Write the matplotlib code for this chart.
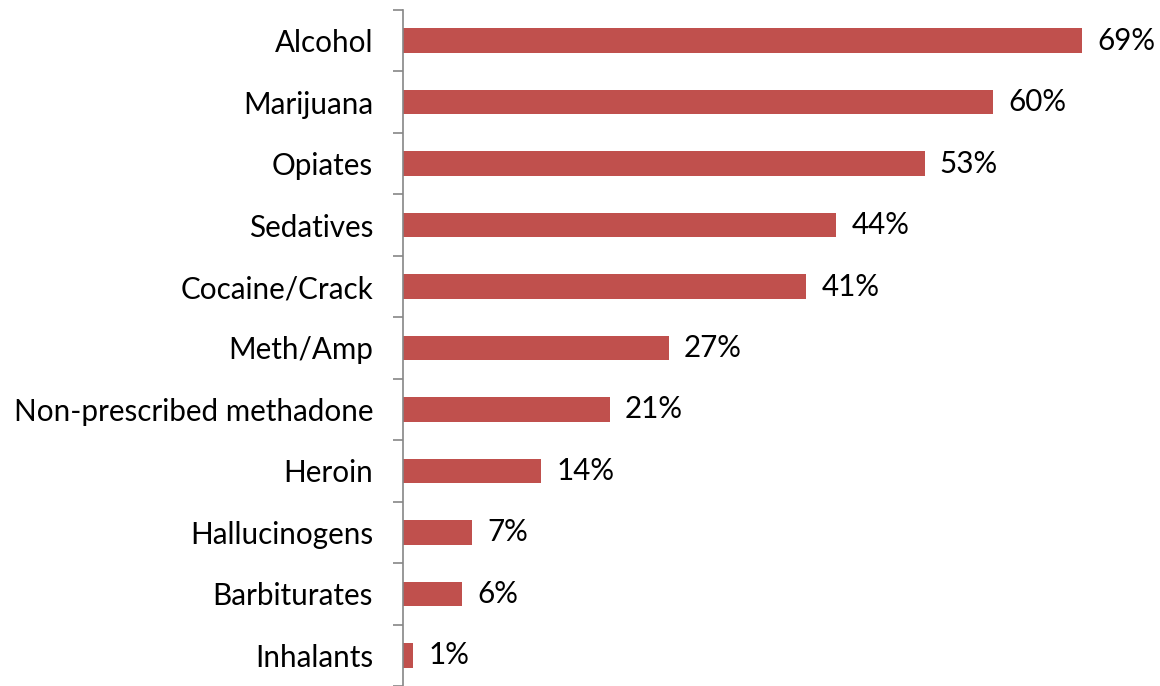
import matplotlib
matplotlib.use("Agg")
from matplotlib import pyplot as plt
import numpy as np

categories = ["Alcohol", "Marijuana", "Opiates", "Sedatives", "Cocaine/Crack",
              "Meth/Amp", "Non-prescribed methadone", "Heroin", "Hallucinogens",
              "Barbiturates", "Inhalants"]
values = [69, 60, 53, 44, 41, 27, 21, 14, 7, 6, 1]

plt.rcParams['font.family'] = ['Lato', 'DejaVu Sans']

fig = plt.figure(figsize=(11.6, 6.86), dpi=100)
ax = fig.add_axes([403 / 1160, 0, 1 - 403 / 1160, 676 / 686])

y = np.arange(len(categories))[::-1]
ax.barh(y, values, height=0.4, color="#C0504D")

for yi, v in zip(y, values):
    ax.annotate("%d%%" % v, (v, yi), xytext=(11, 0), textcoords="offset points",
                va="center", ha="left", fontsize=21.3, color="black")

ax.set_xlim(0, (1160 - 403) / 9.84)
ax.set_ylim(-0.5, len(categories) - 0.5)

ax.set_yticks(y)
ax.set_yticklabels(categories, fontsize=21.3)
ax.tick_params(axis="y", which="major", length=0, pad=21.6)
ax.set_yticks(np.arange(-0.5, len(categories), 1.0), minor=True)
ax.tick_params(axis="y", which="minor", length=7, width=1.2, color="#868686", direction="out")
ax.set_xticks([])

for s in ["top", "right", "bottom"]:
    ax.spines[s].set_visible(False)
ax.spines["left"].set_color("#868686")
ax.spines["left"].set_linewidth(1.2)

fig.savefig("out.png", dpi=100)
